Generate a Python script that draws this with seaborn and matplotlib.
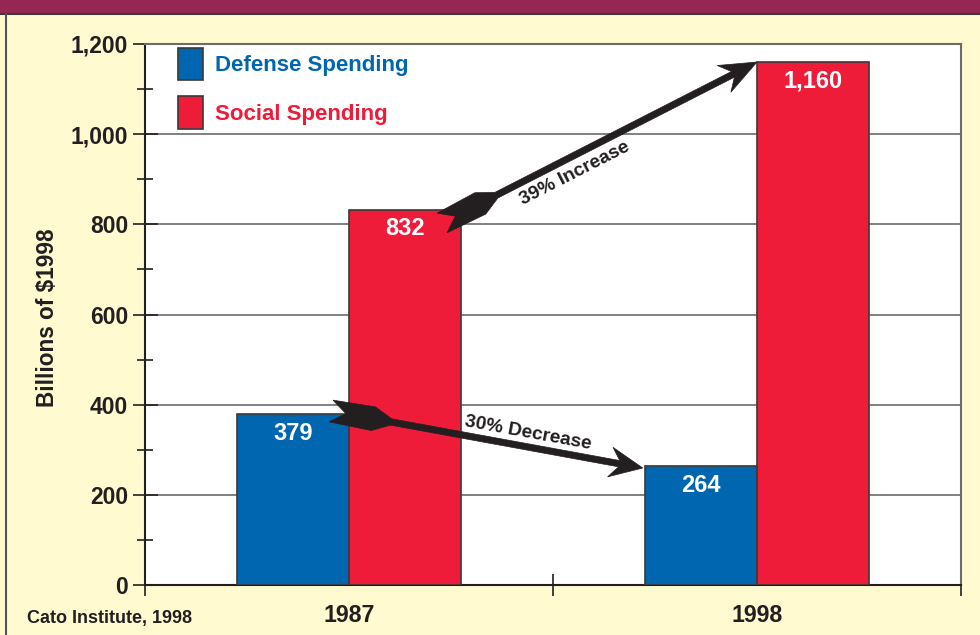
import matplotlib
matplotlib.use("Agg")
import matplotlib.pyplot as plt
import seaborn as sns
import pandas as pd
import numpy as np
from matplotlib.patches import Patch, Rectangle, Polygon
from matplotlib.lines import Line2D
from matplotlib.ticker import FuncFormatter, MultipleLocator, FixedLocator

# ---------------- data ----------------
years = ["1987", "1998"]
series = ["Defense Spending", "Social Spending"]
defense = [379, 264]
social = [832, 1160]
defense_labels = ["379", "264"]
social_labels = ["832", "1,160"]
yticks = [0, 200, 400, 600, 800, 1000, 1200]
increase_label = "39% Increase"
decrease_label = "30% Decrease"
source_text = "Cato Institute, 1998"
ylabel_text = "Billions of $1998"

# ---------------- style ----------------
BLUE = "#0066B0"
RED = "#EE1B39"
MAROON = "#962652"
CREAM = "#FFFAD0"
INK = "#231F20"
GRID = "#6b6b6b"
EDGE = "#3a3a3a"

sns.set_theme(style="white")
plt.rcParams["font.family"] = ["Liberation Sans", "DejaVu Sans"]
plt.rcParams["font.weight"] = "bold"

fig = plt.figure(figsize=(9.8, 6.35), dpi=100, facecolor=CREAM)
ax = fig.add_axes([145 / 980, 50 / 635, 816 / 980, 541 / 635])
ax.set_facecolor("white")

df = pd.DataFrame({
    "year": years * 2,
    "type": [series[0]] * len(years) + [series[1]] * len(years),
    "value": defense + social,
})
sns.barplot(data=df, x="year", y="value", hue="type", hue_order=series,
            palette=[BLUE, RED], width=0.55, saturation=1, edgecolor=EDGE,
            linewidth=1.2, legend=False, ax=ax, zorder=3)

ax.set_xlim(-0.5, 1.5)
ax.set_ylim(0, 1200)

# ticks
ax.yaxis.set_major_locator(FixedLocator(yticks))
ax.yaxis.set_minor_locator(MultipleLocator(100))
ax.yaxis.set_major_formatter(FuncFormatter(lambda v, p: f"{v:,.0f}"))
ax.tick_params(axis="y", which="major", direction="inout", length=18, width=1.2,
               color=INK, labelsize=16.5, labelcolor=INK, pad=3, left=True)
ax.tick_params(axis="y", which="minor", direction="inout", length=11.5, width=1.2,
               color=INK, left=True)
ax.set_xticks([0, 1])
ax.set_xticklabels(years)
ax.xaxis.set_minor_locator(FixedLocator([-0.5, 0.5, 1.5]))
ax.tick_params(axis="x", which="major", length=0, labelsize=16.7, labelcolor=INK, pad=14)
ax.tick_params(axis="x", which="minor", direction="inout", length=16.5, width=1.2,
               color=INK, bottom=True)
ax.set_xlabel("")

ax.set_axisbelow(True)
ax.yaxis.grid(True, which="major", color=GRID, lw=1.2)
ax.xaxis.grid(False)

for s in ["left", "bottom"]:
    ax.spines[s].set_color(INK)
    ax.spines[s].set_linewidth(1.5)
for s in ["top", "right"]:
    ax.spines[s].set_color(GRID)
    ax.spines[s].set_linewidth(1.5)

ax.set_ylabel(ylabel_text, fontsize=16.3, color=INK, fontweight="bold")
ax.yaxis.set_label_coords(-0.106, 0.495)

# value labels
for cont, labs in zip(ax.containers, [defense_labels, social_labels]):
    ax.bar_label(cont, labels=labs, padding=-22, color="white", fontsize=17,
                 fontweight="bold", zorder=5)

# legend
handles = [Patch(facecolor=BLUE, edgecolor=EDGE, lw=1.2, label=series[0]),
           Patch(facecolor=RED, edgecolor=EDGE, lw=1.2, label=series[1])]
leg = ax.legend(handles=handles, loc="upper left", bbox_to_anchor=(0.040, 0.9926),
                frameon=False, fontsize=16, handlelength=1.125, handleheight=1.86,
                handletextpad=0.54, labelspacing=0.72, borderpad=0, borderaxespad=0)
for t, c in zip(leg.get_texts(), [BLUE, RED]):
    t.set_color(c)
    t.set_fontweight("bold")


# arrows
def fancy_arrow(ax, tail, tip, head_len, head_hw, head_notch, shaft_hw=3.2,
                fl_back=11, fl_front=12, fl_len=43, fl_taper=61, fl_notch=15):
    p0 = ax.transData.transform(tail)
    p1 = ax.transData.transform(tip)
    d = p1 - p0
    L = np.hypot(*d)
    u = d / L
    n = np.array([-u[1], u[0]])
    local = [(L, 0), (L - head_len, head_hw), (L - head_notch, shaft_hw),
             (fl_taper, shaft_hw), (fl_len, fl_front), (0, fl_back), (fl_notch, 0),
             (0, -fl_back), (fl_len, -fl_front), (fl_taper, -shaft_hw),
             (L - head_notch, -shaft_hw), (L - head_len, -head_hw)]
    pts = np.array([p0 + a * u + b * n for a, b in local])
    data_pts = ax.transData.inverted().transform(pts)
    ax.add_patch(Polygon(data_pts, closed=True, facecolor=INK, edgecolor=INK,
                         lw=0.5, zorder=6, clip_on=False))
    return np.degrees(np.arctan2(d[1], d[0]))


ang_inc = fancy_arrow(ax, (0.228, 803), (1.0, social[1]), head_len=37, head_hw=15,
                      head_notch=27)
ang_dec = fancy_arrow(ax, (-0.044, 386), (0.72, 259.5), head_len=33, head_hw=15,
                      head_notch=24)

ax.text(0.553, 912, increase_label, rotation=ang_inc, rotation_mode="anchor",
        ha="center", va="center", fontsize=13.8, color=INK, fontweight="bold", zorder=7)
ax.text(0.439, 336, decrease_label, rotation=ang_dec, rotation_mode="anchor",
        ha="center", va="center", fontsize=13.8, color=INK, fontweight="bold", zorder=7)

# figure decorations
fig.patches.append(Rectangle((0, 621 / 635), 1, 14 / 635, transform=fig.transFigure,
                             facecolor=MAROON, edgecolor="none", zorder=0))
fig.lines.append(Line2D([0, 1], [621 / 635, 621 / 635], transform=fig.transFigure,
                        color="#3a3a3a", lw=1.5))
fig.lines.append(Line2D([6 / 980, 6 / 980], [0, 621 / 635], transform=fig.transFigure,
                        color="#555555", lw=1.5))

fig.text(27 / 980, 1 - 618 / 635, source_text, fontsize=13, va="center", ha="left",
         color=INK, fontweight="bold")

fig.savefig("out.png", dpi=100, facecolor=CREAM)
